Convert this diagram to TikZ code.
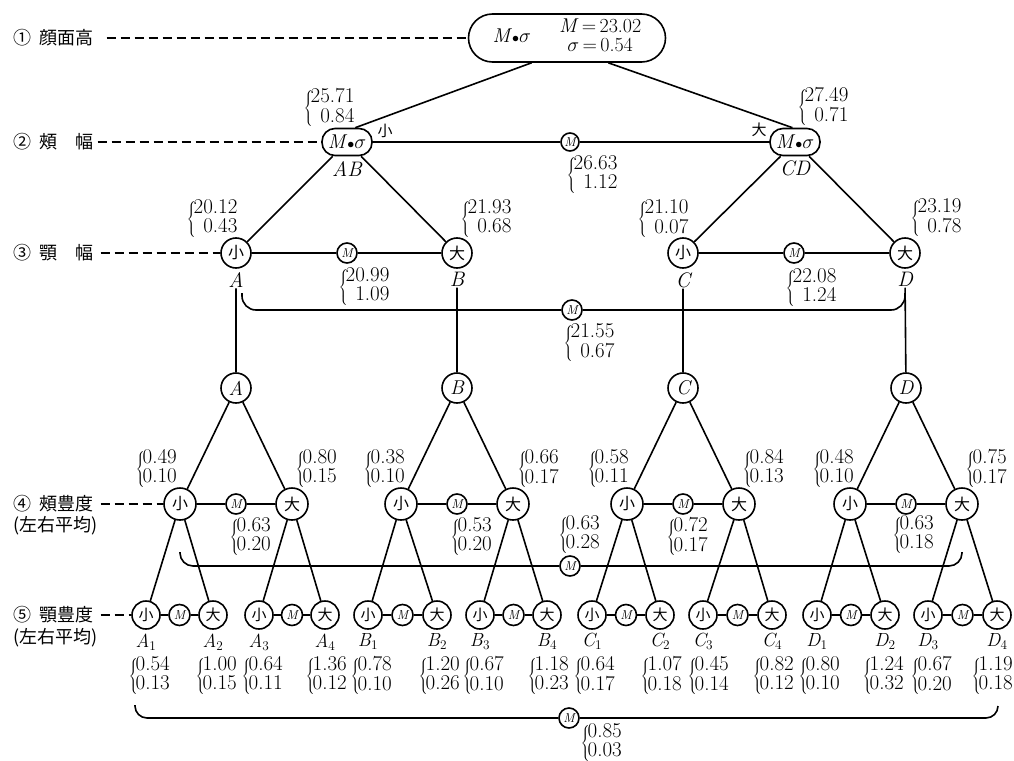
\RequirePackage{fix-cm}
\documentclass[tikz,border=0pt]{standalone}
\usepackage{fontspec}
\newfontfamily\jp{Noto Sans CJK JP}
\usetikzlibrary{positioning,calc}
\newcommand\vals[2]{$\left\{\kern-2pt\begin{array}{@{}r@{}}\mbox{#1}\\\mbox{#2}\end{array}\right.$}
\newcommand\msig{\textit{M}$\scriptstyle\bullet$$\sigma$}

\begin{document}
\begin{tikzpicture}[x=1pt, y=-1pt, line width=1.6pt,
  lvl/.style={anchor=west, inner sep=0pt, font={\jp\fontsize{18}{20}\selectfont}},
  guide/.style={line width=1.4pt, dash pattern=on 9pt off 5pt},
  oval/.style={draw, rounded corners=13pt, minimum width=50pt, minimum height=27pt,
    inner sep=0pt, font={\fontsize{20}{20}\selectfont}},
  kan/.style={draw, circle, minimum size=30pt, inner sep=0pt, font={\jp\fontsize{16}{16}\selectfont}},
  ltr/.style={kan, font={\fontsize{20}{20}\selectfont\itshape}},
  mm/.style={draw, circle, minimum size=20pt, inner sep=0pt, font={\fontsize{13}{13}\selectfont\itshape}},
  tag/.style={inner sep=0pt, font={\fontsize{21}{21}\selectfont\itshape}},
  subtag/.style={tag, font={\fontsize{19}{19}\selectfont\itshape}},
  val/.style={anchor=west, inner sep=0pt, font={\fontsize{21}{19}\selectfont}},
  side/.style={inner sep=0pt, font={\jp\fontsize{15}{15}\selectfont}}
]
\useasboundingbox (0,0) rectangle (1014,760);

% level 1: face height
\node[lvl] (lab1) at (13,38) {①\hspace{8pt}顔面高};
\node[draw, rounded corners=24pt, minimum width=197pt, minimum height=48pt,
  font={\fontsize{20}{19}\selectfont}] (top) at (567,38)
  {\msig\hspace{28pt}\begin{tabular}{@{}c@{}}\textit{M}\,=\,23.02\\$\sigma$\,=\,0.54\end{tabular}\hspace{30pt}};
\draw[guide, shorten <=12pt] (lab1) -- (top);

% level 2
\node[lvl] (lab2) at (13,142) {②\hspace{8pt}頰　幅};
\node[oval] (AB) at (347,142) {\msig};
\node[oval] (CD) at (795,142) {\msig};
\node[mm, minimum size=18pt] (m2) at (570,142) {M};
\node[side] (sm2) at (385,131) {小};
\node[side] (lg2) at (759,130) {大};
\node[tag, below=4pt of AB] (tAB) {AB};
\node[tag, below=4pt of CD] (tCD) {CD};
\node[val] (vAB) at (303,108) {\vals{25.71}{0.84}};
\node[val] (vCD) at (797,107) {\vals{27.49}{0.71}};
\node[val] (vm2) at (566,175) {\vals{26.63}{1.12}};
\draw[guide, shorten <=3pt] (lab2) -- (AB);
\draw (AB) -- (m2) -- (CD);
\draw (top.215) -- (AB.60);
\draw (top.-31) -- (CD.100);

% level 3
\node[lvl] (lab3) at (13,253) {③\hspace{8pt}顎　幅};
\node[kan] (A) at (236,253) {小};
\node[kan] (B) at (457,253) {大};
\node[kan] (C) at (683,253) {小};
\node[kan] (D) at (905,253) {大};
\node[mm] (mAB) at (347,253) {M};
\node[mm] (mCD) at (794,253) {M};
\foreach \g in {A,B,C,D}
  \node[tag, below=3pt of \g] (t\g) {\g};
\node[val] (vA) at (186,219) {\vals{20.12}{0.43}};
\node[val] (vB) at (460,219) {\vals{21.93}{0.68}};
\node[val] (vC) at (637,219) {\vals{21.10}{0.07}};
\node[val] (vD) at (910,218) {\vals{23.19}{0.78}};
\node[val] (vmAB) at (338,287) {\vals{20.99}{1.09}};
\node[val] (vmCD) at (785,288) {\vals{22.08}{1.24}};
\draw[guide, shorten <=6pt] (lab3) -- (A);
\draw (A) -- (mAB) -- (B)  (C) -- (mCD) -- (D);
\draw (AB) -- (A)  (AB) -- (B)  (CD) -- (C)  (CD) -- (D);

\node[mm] (m3) at (572,310) {M};
\coordinate (b3l) at (242,293);
\coordinate (b3r) at (905,293);
\draw[rounded corners=14pt] (b3l) |- (m3.west) (m3.east) -| (b3r);
\node[val] (vm3) at (563,343) {\vals{21.55}{0.67}};

% level 4: cheek thickness
\node[lvl] (lab4) at (13,504) {④\hspace{8pt}頰豊度};
\node[lvl] (lab4b) at (13,526) {(左右平均)};
\foreach \g/\cx in {A/236,B/457,C/683,D/906}{
  \node[ltr] (c\g) at (\cx,388) {\g};
  \node[kan, minimum size=32pt] (s\g) at (\cx-56,504) {小};
  \node[mm] (m\g) at (\cx,504) {M};
  \node[kan, minimum size=32pt] (l\g) at (\cx+56,504) {大};
  \draw (t\g) -- (c\g)  (c\g) -- (s\g)  (c\g) -- (l\g)  (s\g) -- (m\g) -- (l\g);
}
\draw[guide, shorten <=6pt] (lab4) -- (sA);
\node[val] (vsA) at (135,469) {\vals{0.49}{0.10}};
\node[val] (vlA) at (295,469) {\vals{0.80}{0.15}};
\node[val] (vsB) at (363,469) {\vals{0.38}{0.10}};
\node[val] (vlB) at (517,469) {\vals{0.66}{0.17}};
\node[val] (vsC) at (587,469) {\vals{0.58}{0.11}};
\node[val] (vlC) at (742,469) {\vals{0.84}{0.13}};
\node[val] (vsD) at (812,469) {\vals{0.48}{0.10}};
\node[val] (vlD) at (965,469) {\vals{0.75}{0.17}};
\node[val] (vmA) at (229,537) {\vals{0.63}{0.20}};
\node[val] (vmB) at (450,537) {\vals{0.53}{0.20}};
\node[val] (vmC) at (666,537) {\vals{0.72}{0.17}};
\node[val] (vmD) at (892,535) {\vals{0.63}{0.18}};

\node[mm] (m4) at (570,566) {M};
\coordinate (b4l) at (180,552);
\coordinate (b4r) at (962,552);
\draw[rounded corners=13pt] (b4l) |- (m4.west) (m4.east) -| (b4r);
\node[val] (vm4) at (558,535) {\vals{0.63}{0.28}};

% level 5: jaw thickness
\node[lvl] (lab5) at (13,615) {⑤\hspace{8pt}顎豊度};
\node[lvl] (lab5b) at (13,638) {(左右平均)};
\foreach \g/\i/\x/\p/\a/\b/\o in {A/1/146/s/0.54/0.13/18, A/2/213/s/1.00/0.15/18, A/3/259/l/0.64/0.11/18,
    A/4/325/l/1.36/0.12/20, B/1/368/s/0.78/0.10/18, B/2/437/s/1.20/0.26/19, B/3/480/l/0.67/0.10/18,
    B/4/547/l/1.18/0.23/20, C/1/592/s/0.64/0.17/19, C/2/660/s/1.07/0.18/20, C/3/703/l/0.45/0.14/16,
    C/4/772/l/0.82/0.12/20, D/1/817/s/0.80/0.10/19, D/2/885/s/1.24/0.32/23, D/3/928/l/0.67/0.20/18,
    D/4/997/l/1.19/0.18/26}{
  \node[kan, minimum size=28pt, font={\jp\fontsize{15}{15}\selectfont}] (\g\i) at (\x,615)
    {\ifodd\i 小\else 大\fi};
  \node[subtag, below=3pt of \g\i] (t\g\i) {\g\textsubscript{\upshape\i}};
  \node[val] (v\g\i) at (\x-\o,676) {\vals{\a}{\b}};
  \draw (\p\g) -- (\g\i);
}
\foreach \g in {A,B,C,D}
  \foreach \i/\j in {1/2,3/4}{
    \node[mm, minimum size=21pt] (m\g\i) at ($(\g\i)!.5!(\g\j)$) {M};
    \draw (\g\i) -- (m\g\i) -- (\g\j);
  }
\draw[guide, shorten <=6pt] (lab5) -- (A1);

\node[mm] (m5) at (569,718) {M};
\coordinate (b5l) at (135,705);
\coordinate (b5r) at (998,706);
\draw[rounded corners=12pt] (b5l) |- (m5.west) (m5.east) -| (b5r);
\node[val] (vm5) at (580,743) {\vals{0.85}{0.03}};
\end{tikzpicture}
\end{document}
